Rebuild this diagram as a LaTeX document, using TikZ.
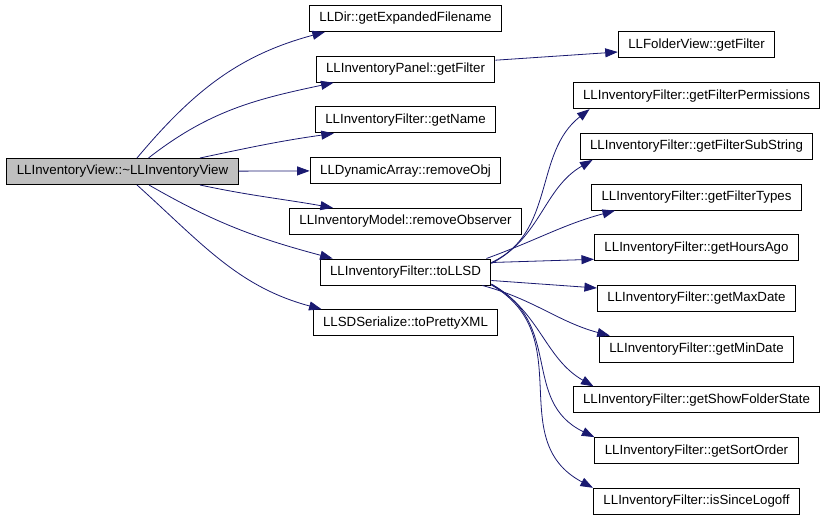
\documentclass[tikz,border=0pt]{standalone}
\usepackage{fontspec}
\setmainfont{Liberation Sans}
\usetikzlibrary{arrows.meta}
\definecolor{edgeblue}{HTML}{191970}
\definecolor{rootgray}{HTML}{BFBFBF}

\begin{document}
\begin{tikzpicture}[x=1pt,y=-1pt,->,>={Triangle[length=12.5pt,width=9pt]},
  node distance=50.7pt,font=\fontsize{13.3}{16}\selectfont]
  \tikzstyle{func}=[draw=black,line width=1pt,rectangle,minimum height=26pt,
    inner xsep=10pt,text height=9.6pt,text depth=2.8pt]
  \tikzstyle{every edge}=[draw=edgeblue,line width=0.8pt]
  \useasboundingbox (0,0) rectangle (827,519);

  \node[func,fill=rootgray] (root) at (122.5,171.5) {LLInventoryView::\textasciitilde LLInventoryView};

  \node[func] (expfn) at (405.5,18.5)   {LLDir::getExpandedFilename};
  \node[func] (panel)     [below of=expfn]     {LLInventoryPanel::getFilter};
  \node[func] (getname)   [below of=panel]     {LLInventoryFilter::getName};
  \node[func] (removeobj) [below of=getname]   {LLDynamicArray::removeObj};
  \node[func] (removeobs) [below of=removeobj] {LLInventoryModel::removeObserver};
  \node[func] (tollsd)    [below of=removeobs] {LLInventoryFilter::toLLSD};
  \node[func] (prettyxml) [below of=tollsd]    {LLSDSerialize::toPrettyXML};

  \node[func] (folderview) at (696.5,45) {LLFolderView::getFilter};
  \node[func] (perms)      [below of=folderview] {LLInventoryFilter::getFilterPermissions};
  \node[func] (substring)  [below of=perms]      {LLInventoryFilter::getFilterSubString};
  \node[func] (types)      [below of=substring]  {LLInventoryFilter::getFilterTypes};
  \node[func] (hours)      [below of=types]      {LLInventoryFilter::getHoursAgo};
  \node[func] (maxdate)    [below of=hours]      {LLInventoryFilter::getMaxDate};
  \node[func] (mindate)    [below of=maxdate]    {LLInventoryFilter::getMinDate};
  \node[func] (showfolder) [below of=mindate]    {LLInventoryFilter::getShowFolderState};
  \node[func] (sortorder)  [below of=showfolder] {LLInventoryFilter::getSortOrder};
  \node[func] (logoff)     [below of=sortorder]  {LLInventoryFilter::isSinceLogoff};

  \path ([xshift=14.5pt]root.north) edge [out=50,in=195]  ([xshift=16pt]expfn.south west)
        ([xshift=26pt]root.north)   edge [out=38,in=192]  ([xshift=18pt]panel.south west)
        ([xshift=77.5pt]root.north) edge [out=12,in=188]  ([xshift=19pt]getname.south west)
        (root)                      edge                  (removeobj)
        ([xshift=77.5pt]root.south) edge [out=-12,in=170] ([xshift=44pt]removeobs.north west)
        ([xshift=26.5pt]root.south) edge [out=-30,in=165] ([xshift=13pt]tollsd.north west)
        ([xshift=14.5pt]root.south) edge [out=-42,in=165] ([xshift=9pt]prettyxml.north west)
        ([yshift=9pt]panel.east)    edge                  ([yshift=-7pt]folderview.west)
        ;
  \path ([yshift=9.5pt]tollsd.east)    edge [out=25,in=218]  ([xshift=17pt]perms.south west)
        ([yshift=8.5pt]tollsd.east)    edge [out=28,in=210]  ([xshift=13pt]substring.south west)
        ([xshift=-5pt]tollsd.north east) edge [out=20,in=195] ([xshift=24pt]types.south west)
        ([yshift=9.5pt]tollsd.east)    edge                  ([yshift=2pt]hours.south west)
        ([yshift=-8.5pt]tollsd.east)   edge                  ([yshift=-3pt]maxdate.north west)
        ([xshift=-9pt]tollsd.south east) edge [out=-15,in=165] ([xshift=11pt]mindate.north west)
        ([yshift=-12pt]tollsd.east)    edge [out=-30,in=150] ([xshift=21pt]showfolder.north west)
        ([yshift=-12.5pt]tollsd.east)  edge [out=-28,in=154,looseness=1.15] (sortorder.north west)
        ([yshift=-13pt]tollsd.east)    edge [out=-30,in=152,looseness=1.15] (logoff.north west)
        ;
\end{tikzpicture}
\end{document}
